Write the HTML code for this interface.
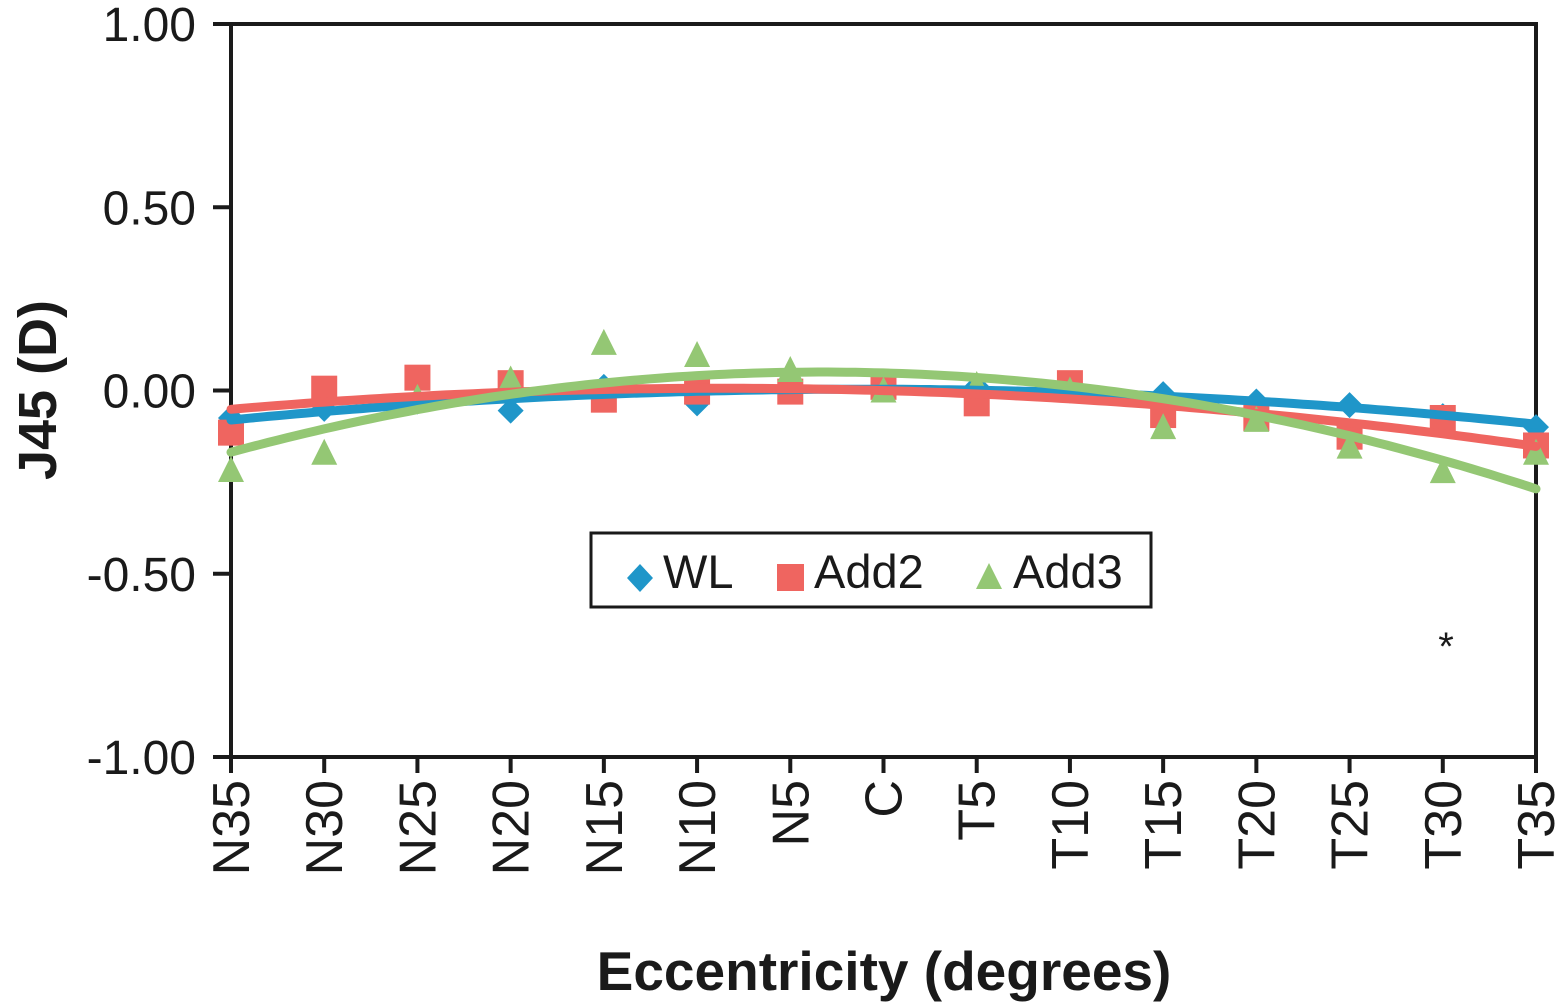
<!DOCTYPE html>
<html><head><meta charset="utf-8"><style>
html,body{margin:0;padding:0;background:#fff;}
svg{display:block;font-family:"Liberation Sans",Arial,sans-serif;}
</style></head><body>
<svg id="chart" width="1566" height="1003" viewBox="0 0 1566 1003" xmlns="http://www.w3.org/2000/svg">
<g id="grid"></g>
<g id="marks"></g>
<g id="legend">
  <rect x="591" y="533" width="560" height="74" fill="#fff" stroke="#1a1a1a" stroke-width="3"/>
  <g>
    <polygon points="640,564 653,578 640,592 627,578" fill="#1f96c9"/>
    <text x="663" y="588" font-size="47" fill="#1a1a1a">WL</text>
  </g>
  <g>
    <rect x="777" y="564" width="27" height="27" fill="#ef6560"/>
    <text x="814" y="588" font-size="47" fill="#1a1a1a">Add2</text>
  </g>
  <g>
    <polygon points="989,563 1002,589 976,589" fill="#94c774"/>
    <text x="1013" y="588" font-size="47" fill="#1a1a1a">Add3</text>
  </g>
</g>
<text x="1446" y="660" font-size="40" text-anchor="middle" fill="#1a1a1a">*</text>
<text transform="translate(56,390) rotate(-90)" font-size="54" font-weight="bold" text-anchor="middle" fill="#1a1a1a">J45 (D)</text>
<text x="884" y="990" font-size="55" font-weight="bold" text-anchor="middle" fill="#1a1a1a">Eccentricity (degrees)</text>
</svg>
<script>
const categories = ["N35","N30","N25","N20","N15","N10","N5","C","T5","T10","T15","T20","T25","T30","T35"];
const wlValues   = [-0.075,-0.05,-0.03,-0.055,0.01,-0.035,0.005,0.01,0.01,0.0,-0.01,-0.03,-0.04,-0.07,-0.10];
const add2Values = [-0.115,0.005,0.035,0.02,-0.025,-0.003,-0.003,0.01,-0.035,0.02,-0.067,-0.075,-0.126,-0.075,-0.15];
const add3Values = [-0.217,-0.17,-0.02,0.03,0.13,0.097,0.056,0.0,0.015,0.0,-0.10,-0.08,-0.153,-0.22,-0.17];
const yTicks = [1.00,0.50,0.00,-0.50,-1.00];
const yTickLabels = ["1.00","0.50","0.00","-0.50","-1.00"];

const NS="http://www.w3.org/2000/svg";
const X0=231,X1=1536,Y0=24,Y1=757,YMIN=-1,YMAX=1;
function xPos(i){return X0+(X1-X0)*i/(categories.length-1);}
function yPos(v){return Y1-(v-YMIN)/(YMAX-YMIN)*(Y1-Y0);}
function mk(tag,attrs,parent){const e=document.createElementNS(NS,tag);for(const k in attrs)e.setAttribute(k,attrs[k]);parent.appendChild(e);return e;}
const grid=document.getElementById('grid'),marks=document.getElementById('marks');

const frame=mk('rect',{x:X0,y:Y0,width:X1-X0,height:Y1-Y0,fill:'none',stroke:'#1a1a1a','stroke-width':4},grid);


yTicks.forEach((v,i)=>{
  const t=mk('line',{x1:X0-18,x2:X0,y1:yPos(v),y2:yPos(v),stroke:'#1a1a1a','stroke-width':4},grid);
  
  
  const l=mk('text',{x:196,y:yPos(v)+17,'font-size':48,'text-anchor':'end',fill:'#1a1a1a'},grid);
  l.textContent=yTickLabels[i];
  
  
});
categories.forEach((c,i)=>{
  const x=xPos(i);
  const t=mk('line',{x1:x,x2:x,y1:Y1,y2:Y1+16,stroke:'#1a1a1a','stroke-width':4},grid);
  
  
  const l=mk('text',{transform:`translate(${x+18},780) rotate(-90)`,'font-size':52,'text-anchor':'end',fill:'#1a1a1a'},grid);
  l.textContent=c;
  
  
});

function quadFit(vals){
  let S=[0,0,0,0,0],T=[0,0,0];
  vals.forEach((y,i)=>{const x=i;for(let k=0;k<5;k++)S[k]+=Math.pow(x,k);for(let k=0;k<3;k++)T[k]+=y*Math.pow(x,k);});
  const A=[[S[0],S[1],S[2],T[0]],[S[1],S[2],S[3],T[1]],[S[2],S[3],S[4],T[2]]];
  for(let i=0;i<3;i++){for(let j=i+1;j<3;j++){const f=A[j][i]/A[i][i];for(let k=i;k<4;k++)A[j][k]-=f*A[i][k];}}
  const c=[0,0,0];for(let i=2;i>=0;i--){let s=A[i][3];for(let k=i+1;k<3;k++)s-=A[i][k]*c[k];c[i]=s/A[i][i];}
  return x=>c[0]+c[1]*x+c[2]*x*x;
}
const series=[
  {name:'wl',vals:wlValues,color:'#1f96c9',shape:'diamond'},
  {name:'add2',vals:add2Values,color:'#ef6560',shape:'square'},
  {name:'add3',vals:add3Values,color:'#94c774',shape:'triangle'}
];
series.forEach(s=>{
  const g=mk('g',{},marks);
  
  
  s.vals.forEach((v,i)=>{
    const x=xPos(i),y=yPos(v);let e;
    if(s.shape==='diamond')e=mk('polygon',{points:`${x},${y-13} ${x+13},${y} ${x},${y+13} ${x-13},${y}`,fill:s.color},g);
    else if(s.shape==='square')e=mk('rect',{x:x-13,y:y-13,width:26,height:26,fill:s.color},g);
    else e=mk('polygon',{points:`${x},${y-14} ${x+13},${y+12} ${x-13},${y+12}`,fill:s.color},g);
    
    
  });
});
series.forEach(s=>{
  const f=quadFit(s.vals);let d='';
  for(let k=0;k<=140;k++){const xi=k/10;d+=(k?'L':'M')+(X0+(X1-X0)*xi/14).toFixed(1)+','+yPos(f(xi)).toFixed(1);}
  const p=mk('path',{d:d,fill:'none',stroke:s.color,'stroke-width':9,'stroke-linecap':'round'},marks);
  
  
});
</script>
</body></html>
